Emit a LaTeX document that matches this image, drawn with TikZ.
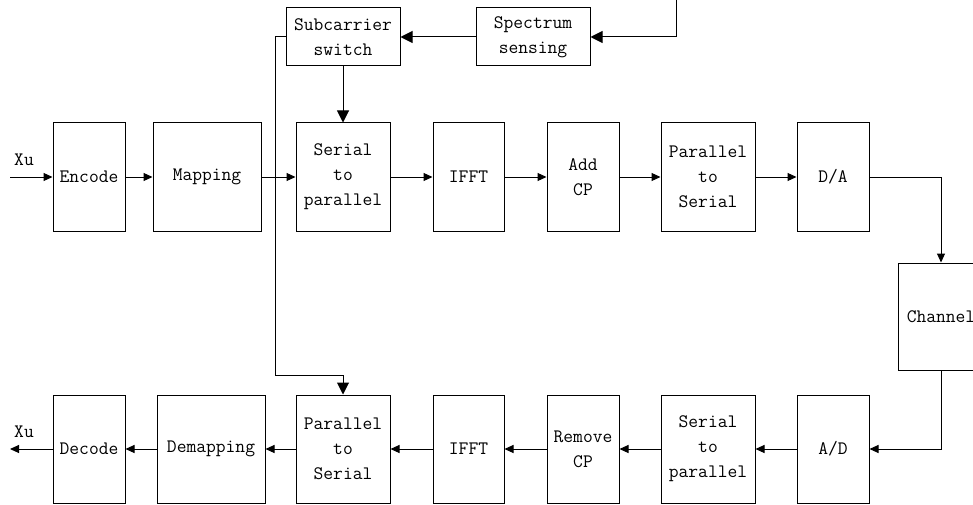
\documentclass[tikz,border=0pt]{standalone}
\usepackage{tikz}
\usetikzlibrary{arrows.meta}

\begin{document}
\begin{tikzpicture}[x=1pt, y=-1pt, line width=1pt,
    font=\ttfamily\fontsize{19}{25}\selectfont,
    >={Triangle[length=9pt, width=8pt]},
    blk/.style={draw, inner sep=0pt, align=center, minimum height=108pt},
    big/.style={-{Triangle[length=12pt, width=12pt]}}]
      \useasboundingbox (0, 0) rectangle (973, 505);
      % upper chain
      \node[blk, minimum width=72pt] (enc) at (89, 177) {Encode};
      \node[blk, minimum width=108pt] (map) at (207, 177) {Mapping};
      \node[blk, minimum width=94pt] (sp1) at (343, 177) {Serial\\to\\parallel};
      \node[blk, minimum width=71pt] (ifft1) at (468.5, 177) {IFFT};
      \node[blk, minimum width=72pt] (acp) at (583, 177) {Add\\CP};
      \node[blk, minimum width=94pt] (ps1) at (708, 177) {Parallel\\to\\Serial};
      \node[blk, minimum width=72pt] (da) at (833, 177) {D/A};
      \node[blk, minimum width=86pt, minimum height=107pt] (chan) at (941, 316.5) {Channel};
      % lower chain
      \node[blk, minimum width=72pt] (dec) at (89, 449) {Decode};
      \node[blk, minimum width=108pt] (dmap) at (211, 449) {Demapping};
      \node[blk, minimum width=94pt] (ps2) at (343, 449) {Parallel\\to\\Serial};
      \node[blk, minimum width=71pt] (ifft2) at (468.5, 449) {IFFT};
      \node[blk, minimum width=72pt] (rcp) at (583, 449) {Remove\\CP};
      \node[blk, minimum width=94pt] (sp2) at (708, 449) {Serial\\to\\parallel};
      \node[blk, minimum width=72pt] (ad) at (833, 449) {A/D};
      % control
      \node[blk, minimum width=114pt, minimum height=58pt] (sw) at (343, 37) {Subcarrier\\switch};
      \node[blk, minimum width=114pt, minimum height=58pt] (sens) at (533, 37) {Spectrum\\sensing};
      \coordinate (in) at (10, 177);
      \coordinate (out) at (10, 449);
      \coordinate (top) at (676, 0);
      \node (xu1) at (24, 160) {Xu};
      \node (xu2) at (24, 432) {Xu};
      \draw[->] (in) -- (enc);
      \draw[->] (enc) -- (map);
      \draw[->] (map) -- (sp1);
      \draw[->] (sp1) -- (ifft1);
      \draw[->] (ifft1) -- (acp);
      \draw[->] (acp) -- (ps1);
      \draw[->] (ps1) -- (da);
      \draw[->] (da.east) -| (chan.north);
      \draw[->] (chan.south) |- (ad.east);
      \draw[->] (ad) -- (sp2);
      \draw[->] (sp2) -- (rcp);
      \draw[->] (rcp) -- (ifft2);
      \draw[->] (ifft2) -- (ps2);
      \draw[->] (ps2) -- (dmap);
      \draw[->] (dmap) -- (dec);
      \draw[->] (dec) -- (out);
      \draw[big] (top) |- (sens.east);
      \draw[big] (sens) -- (sw);
      \draw[big] (sw) -- (sp1);
      \draw[big] (sw.west) -- (275, 37) -- (275, 375) -| (ps2.north);
    \end{tikzpicture}
\end{document}
